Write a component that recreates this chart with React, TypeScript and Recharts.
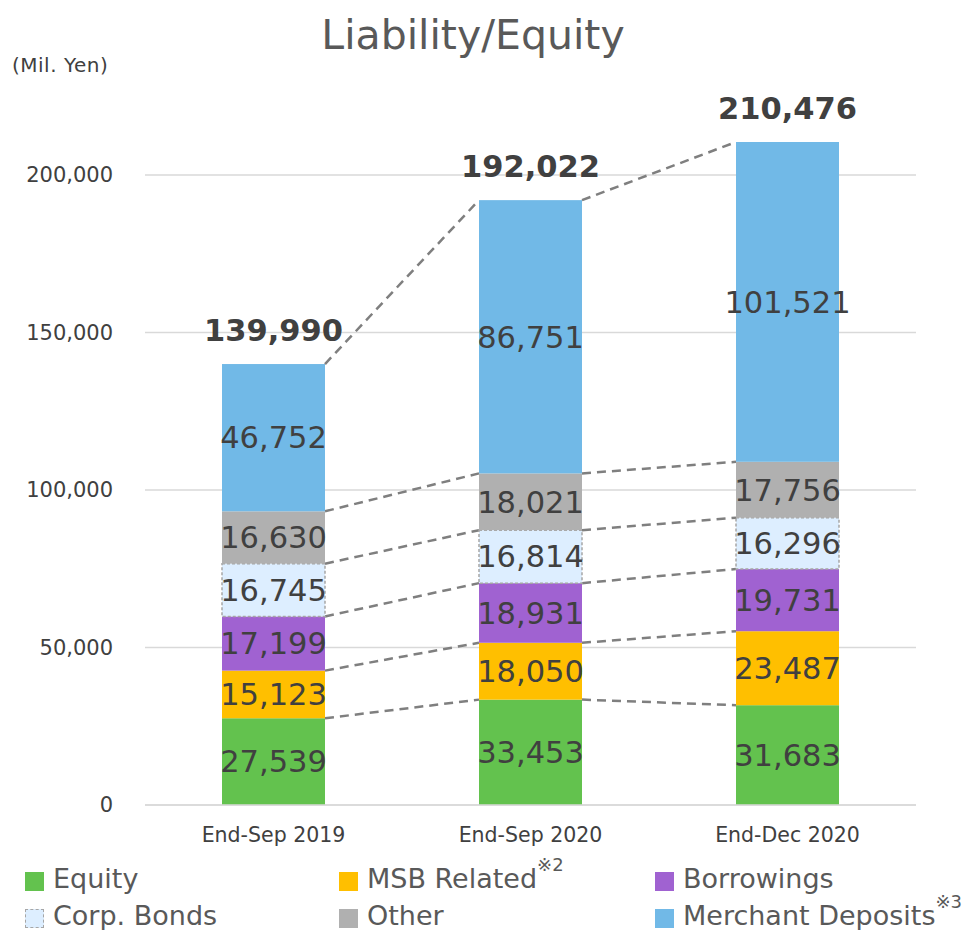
import { BarChart, Bar, XAxis, YAxis, CartesianGrid, LabelList } from "recharts";

const categories = ["End-Sep 2019", "End-Sep 2020", "End-Dec 2020"];
const equity = [27539, 33453, 31683];
const msbRelated = [15123, 18050, 23487];
const borrowings = [17199, 18931, 19731];
const corpBonds = [16745, 16814, 16296];
const other = [16630, 18021, 17756];
const merchantDeposits = [46752, 86751, 101521];
const totals = [139990, 192022, 210476];
const yTicks = [0, 50000, 100000, 150000, 200000];

const stack = [equity, msbRelated, borrowings, corpBonds, other, merchantDeposits];

const data = categories.map((name, i) => ({
  name,
  equity: equity[i],
  msbRelated: msbRelated[i],
  borrowings: borrowings[i],
  corpBonds: corpBonds[i],
  other: other[i],
  merchantDeposits: merchantDeposits[i],
  total: totals[i],
}));

const W = 966;
const H = 930;
const MARGIN = { top: 112, right: 50, left: 0, bottom: 85 };
const Y_AXIS_W = 145;
const STEP = (W - MARGIN.left - MARGIN.right - Y_AXIS_W) / categories.length;

const FONT = "'DejaVu Sans', Verdana, sans-serif";
const TEXT = "#404040";

function cumulative(level: number, i: number) {
  let s = 0;
  for (let l = 0; l <= level; l++) s += stack[l][i];
  return s;
}

// draws the segment plus the dashed connector to the same level in the next bar
function makeShape(level: number, dashed = false) {
  return (props: any) => {
    const { x, y, width, height, fill, payload } = props;
    const i = categories.indexOf(payload?.name);
    const k = height / stack[level][i];
    const base = y + height + k * cumulative(level - 1, i);
    const hasNext = i >= 0 && i < categories.length - 1;
    const yNext = hasNext ? base - k * cumulative(level, i + 1) : 0;
    return (
      <g>
        <rect
          x={x}
          y={y}
          width={width}
          height={height}
          fill={fill}
          stroke={dashed ? "#A6A6A6" : "none"}
          strokeWidth={dashed ? 1.5 : 0}
          strokeDasharray={dashed ? "3 2" : undefined}
        />
        {hasNext && (
          <line
            x1={x + width}
            y1={y}
            x2={x + STEP}
            y2={yNext}
            stroke="#7F7F7F"
            strokeWidth={2.5}
            strokeDasharray="9 6"
          />
        )}
      </g>
    );
  };
}

const fmt = (v: any) => Number(v).toLocaleString("en-US");

const segLabel = {
  position: "center" as const,
  fill: TEXT,
  fontSize: 30.5,
  fontFamily: FONT,
  formatter: fmt,
};

const series = [
  { key: "equity", color: "#63C24E" },
  { key: "msbRelated", color: "#FFBF00" },
  { key: "borrowings", color: "#A062D1" },
  { key: "corpBonds", color: "#DDEEFF", dashed: true },
  { key: "other", color: "#B0B0B0" },
  { key: "merchantDeposits", color: "#71B9E7" },
];

const legendItems = [
  { label: "Equity", color: "#63C24E", x: 25, row: 0 },
  { label: "MSB Related", color: "#FFBF00", x: 339, row: 0, note: "※2" },
  { label: "Borrowings", color: "#A062D1", x: 655, row: 0 },
  { label: "Corp. Bonds", color: "#DDEEFF", x: 25, row: 1, dashed: true },
  { label: "Other", color: "#B0B0B0", x: 339, row: 1 },
  { label: "Merchant Deposits", color: "#71B9E7", x: 655, row: 1, note: "※3" },
];

export default function App() {
  return (
    <div
      style={{
        position: "absolute",
        left: 0,
        top: 0,
        width: W,
        height: H,
        background: "#fff",
        fontFamily: FONT,
        overflow: "hidden",
      }}
    >
      <div
        style={{
          position: "absolute",
          left: 0,
          width: 946,
          top: 10,
          textAlign: "center",
          fontSize: 41,
          color: "#595959",
          lineHeight: "50px",
        }}
      >
        Liability/Equity
      </div>
      <div
        style={{
          position: "absolute",
          left: 12,
          top: 53,
          fontSize: 20,
          letterSpacing: 0.5,
          color: TEXT,
          lineHeight: "24px",
        }}
      >
        (Mil. Yen)
      </div>
      <BarChart width={W} height={H} data={data} margin={MARGIN} barSize={103}>
        <CartesianGrid
          vertical={false}
          horizontalValues={yTicks}
          stroke="#D9D9D9"
          strokeWidth={1.5}
        />
        <XAxis
          dataKey="name"
          height={40}
          axisLine={{ stroke: "#D9D9D9", strokeWidth: 1.5 }}
          tickLine={false}
          tickSize={0}
          tickMargin={22}
          tick={{ fill: TEXT, fontSize: 20.5, fontFamily: FONT }}
        />
        <YAxis
          width={Y_AXIS_W}
          domain={[0, 220000]}
          ticks={yTicks}
          allowDataOverflow
          axisLine={false}
          tickLine={false}
          tickSize={0}
          tickMargin={32}
          tickFormatter={fmt}
          tick={{ fill: TEXT, fontSize: 21, fontFamily: FONT }}
        />
        {series.map((s, level) => (
          <Bar
            key={s.key}
            dataKey={s.key}
            stackId="a"
            fill={s.color}
            isAnimationActive={false}
            shape={makeShape(level, !!s.dashed)}
          >
            <LabelList dataKey={s.key} {...segLabel} />
            {s.key === "merchantDeposits" && (
              <LabelList
                dataKey="total"
                position="top"
                offset={23}
                fill={TEXT}
                fontSize={30.5}
                fontWeight="bold"
                fontFamily={FONT}
                formatter={fmt}
              />
            )}
          </Bar>
        ))}
      </BarChart>
      {legendItems.map((it) => (
        <div
          key={it.label}
          style={{
            position: "absolute",
            left: it.x,
            top: it.row === 0 ? 862 : 899,
            height: 32,
            display: "flex",
            alignItems: "center",
            fontSize: 27,
            color: "#595959",
            whiteSpace: "nowrap",
          }}
        >
          <span
            style={{
              display: "inline-block",
              width: it.dashed ? 17 : 19,
              height: it.dashed ? 17 : 19,
              background: it.color,
              border: it.dashed ? "1px dashed #A6A6A6" : "none",
              marginRight: 9,
              marginTop: 6,
            }}
          />
          <span>{it.label}</span>
          {it.note && (
            <span style={{ fontSize: 18, position: "relative", top: -14 }}>{it.note}</span>
          )}
        </div>
      ))}
    </div>
  );
}
